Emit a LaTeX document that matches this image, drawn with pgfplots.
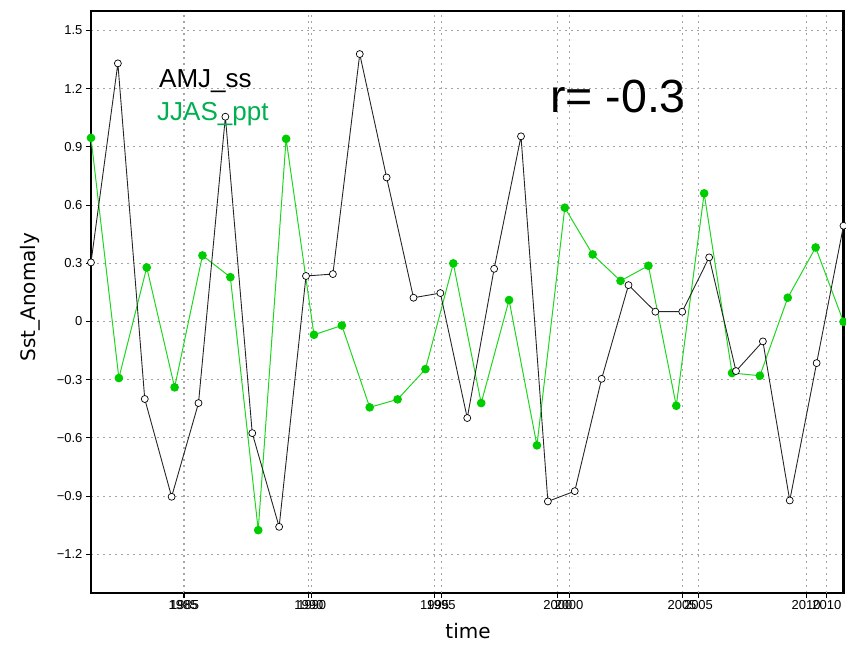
\documentclass[border=0pt]{standalone}
\usepackage{pgfplots}
\pgfplotsset{compat=1.18}
\usepackage{fontspec}
\setmainfont{Liberation Sans}
\newfontfamily\dejavu{DejaVu Sans}
\definecolor{linegreen}{RGB}{30,215,30}
\definecolor{markgreen}{RGB}{0,205,0}
\definecolor{textgreen}{RGB}{0,176,80}
\definecolor{gridgray}{RGB}{165,165,165}

\pgfplotsset{
  base/.style={
    scale only axis, width=752.5pt, height=582pt,
    at={(91pt,52pt)}, anchor=south west,
    ymin=-1.4, ymax=1.6,
    clip=false,
  },
  mygrid/.style={grid style={gridgray, line width=0.8pt, dash pattern=on 2pt off 4pt}},
  myticks/.style={
    tick align=outside, tick pos=left,
    major tick length=5pt,
    every tick/.style={black, line width=0.8pt},
    tick label style={font=\fontsize{13}{13}\selectfont},
    xticklabel style={inner sep=2pt},
  },
}

\begin{document}
\begin{tikzpicture}[x=1pt,y=1pt]
\useasboundingbox (0,0) rectangle (846,645);

% frame, y grid and the first set of time ticks
\begin{axis}[base, myticks, mygrid,
  xmin=1982, xmax=2010,
  axis line style={line width=2.4pt, black},
  xtick={1985.485,1990.106,1994.786,1999.370,2003.991,2008.611},
  xticklabels={1985,1990,1995,2000,2005,2010},
  ytick={-1.2,-0.9,-0.6,-0.3,0,0.3,0.6,0.9,1.2,1.5},
  yticklabels={−1.2,−0.9,−0.6,−0.3,0,0.3,0.6,0.9,1.2,1.5},
  xmajorgrids, ymajorgrids,
]
\end{axis}

% second time axis with JJAS_ppt
\begin{axis}[base, myticks, mygrid,
  xmin=1983, xmax=2010,
  axis line style={draw=none},
  xtick={1986.302,1990.921,1995.564,2000.150,2004.797,2009.401},
  xticklabels={1985,1990,1995,2000,2005,2010},
  ytick=\empty,
  xmajorgrids,
]
\addplot[linegreen, line width=1pt, mark=*, mark size=3.8pt,
  mark options={fill=markgreen, draw=markgreen}] coordinates {
(1983,0.946) (1984,-0.292) (1985,0.278) (1986,-0.340) (1987,0.340)
(1988,0.228) (1989,-1.076) (1990,0.941) (1991,-0.069) (1992,-0.021)
(1993,-0.443) (1994,-0.402) (1995,-0.246) (1996,0.299) (1997,-0.421)
(1998,0.110) (1999,-0.639) (2000,0.586) (2001,0.345) (2002,0.209)
(2003,0.287) (2004,-0.435) (2005,0.660) (2006,-0.266) (2007,-0.280)
(2008,0.122) (2009,0.381) (2010,-0.002)
};
\end{axis}

% AMJ_ss
\begin{axis}[base, hide axis, xmin=1982, xmax=2010]
\addplot[black!85, line width=0.9pt, mark=*, mark size=3.5pt,
  mark options={fill=white, draw=black, line width=0.7pt}] coordinates {
(1982,0.304) (1983,1.330) (1984,-0.400) (1985,-0.904) (1986,-0.421)
(1987,1.055) (1988,-0.576) (1989,-1.059) (1990,0.234) (1991,0.244)
(1992,1.378) (1993,0.742) (1994,0.122) (1995,0.146) (1996,-0.498)
(1997,0.271) (1998,0.954) (1999,-0.928) (2000,-0.875) (2001,-0.296)
(2002,0.187) (2003,0.050) (2004,0.050) (2005,0.330) (2006,-0.256)
(2007,-0.103) (2008,-0.923) (2009,-0.215) (2010,0.493)
};
\end{axis}

\node[inner sep=0pt, anchor=base west, font=\fontsize{26}{26}\selectfont] at (159,557) {AMJ\_ss};
\node[inner sep=0pt, anchor=base west, text=textgreen, font=\fontsize{26}{26}\selectfont] at (157,524) {JJAS\_ppt};
\node[inner sep=0pt, anchor=base west, font=\fontsize{46.5}{46.5}\selectfont] at (550,532) {r= -0.3};
\node[inner sep=0pt, anchor=base, rotate=90, font=\dejavu\fontsize{20}{20}\selectfont] at (35.5,348) {Sst\_Anomaly};
\node[inner sep=0pt, anchor=base, font=\dejavu\fontsize{20}{20}\selectfont] at (468,6) {time};
\end{tikzpicture}
\end{document}
